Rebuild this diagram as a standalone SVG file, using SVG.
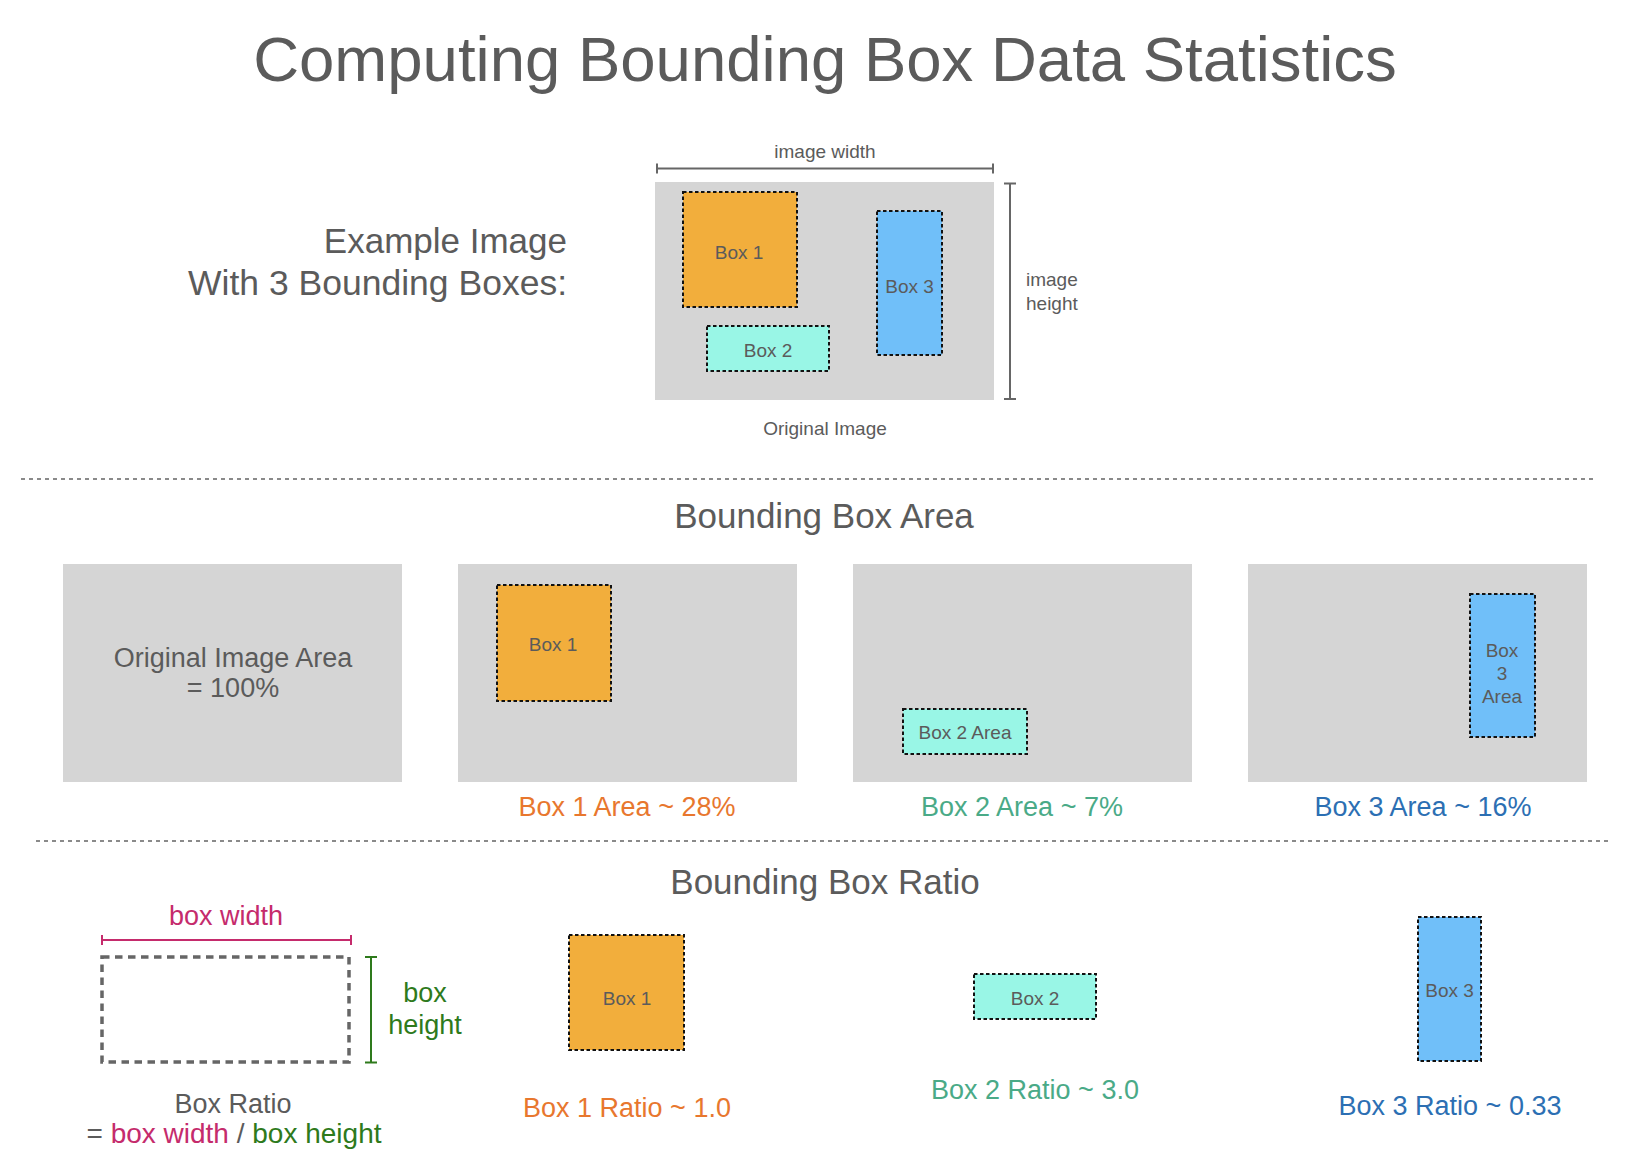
<svg xmlns="http://www.w3.org/2000/svg" width="1632" height="1156" viewBox="0 0 1632 1156">
<style>
text{font-family:"Liberation Sans",Arial,sans-serif;fill:#5b5b5b}
.c{text-anchor:middle}
.title{font-size:63.5px}
.h{font-size:35px}
.s{font-size:19px}
.m{font-size:27px}
.l{font-size:27px}
.img{fill:#d5d5d5}
.bx{stroke:#111;stroke-width:2;stroke-dasharray:3.5 2.5}
.o{fill:#f2ae3c}.cy{fill:#99f6e6}.b{fill:#70bff9}
.div{stroke:#8a8a8a;stroke-width:2;stroke-dasharray:4 4;fill:none}
.dim{stroke:#666;stroke-width:2;fill:none}
</style>
<rect width="1632" height="1156" fill="#fff"/>
<text id="title" class="title c" x="825" y="81">Computing Bounding Box Data Statistics</text>

<g id="example-label">
<text x="567" y="253" font-size="35" text-anchor="end">Example Image</text>
<text x="567" y="295" font-size="35.5" text-anchor="end">With 3 Bounding Boxes:</text>
</g>

<g id="original-image">
<rect class="img" x="655" y="182" width="339" height="218"/>
<text class="s c" x="825" y="435">Original Image</text>
</g>
<g id="orig-box1"><rect class="o bx" x="683" y="192" width="114" height="115"/><text class="s c" x="739" y="259">Box 1</text></g>
<g id="orig-box2"><rect class="cy bx" x="707" y="326" width="122" height="45"/><text class="s c" x="768" y="357">Box 2</text></g>
<g id="orig-box3"><rect class="b bx" x="877" y="211" width="65" height="144"/><text class="s c" x="909.5" y="293">Box 3</text></g>

<g id="connectors">
<g id="image-width-dim">
<path class="dim" d="M657 168.5H993M657 163.5v10M993 163.5v10"/>
<text class="s c" x="825" y="158">image width</text>
</g>
<g id="image-height-dim">
<path class="dim" d="M1010 183.5V399M1004 183.5h12M1004 399h12"/>
<text class="s" x="1026" y="286">image</text>
<text class="s" x="1026" y="310">height</text>
</g>
<line id="divider1" class="div" x1="21" y1="479" x2="1597" y2="479"/>
<line id="divider2" class="div" x1="36" y1="841" x2="1612" y2="841"/>
<g id="box-width-dim">
<path d="M102 940H351M102 935v10M351 935v10" stroke="#c52b6c" stroke-width="2" fill="none"/>
</g>
<g id="box-height-dim">
<path d="M371 957V1062.5M365 957h12M365 1062.5h12" stroke="#2e7a1c" stroke-width="2" fill="none"/>
</g>
</g>

<text id="area-header" class="h c" x="824" y="528">Bounding Box Area</text>

<g id="area-original">
<rect class="img" x="63" y="564" width="339" height="218"/>
<text class="m c" x="233" y="667">Original Image Area</text>
<text class="m c" x="233" y="697">= 100%</text>
</g>
<g id="area-box1">
<rect class="img" x="458" y="564" width="339" height="218"/>
<rect class="o bx" x="497" y="585" width="114" height="116"/>
<text class="s c" x="553" y="651">Box 1</text>
<text class="l c" x="627" y="816" style="fill:#e8772e">Box 1 Area ~ 28%</text>
</g>
<g id="area-box2">
<rect class="img" x="853" y="564" width="339" height="218"/>
<rect class="cy bx" x="903" y="709" width="124" height="45"/>
<text class="s c" x="965" y="739">Box 2 Area</text>
<text class="l c" x="1022" y="816" style="fill:#4aaa87">Box 2 Area ~ 7%</text>
</g>
<g id="area-box3">
<rect class="img" x="1248" y="564" width="339" height="218"/>
<rect class="b bx" x="1470" y="594" width="65" height="143"/>
<text class="s c" x="1502" y="657">Box</text>
<text class="s c" x="1502" y="680">3</text>
<text class="s c" x="1502" y="703">Area</text>
<text class="l c" x="1423" y="816" style="fill:#2c6fb3">Box 3 Area ~ 16%</text>
</g>

<text id="ratio-header" class="h c" x="825" y="894">Bounding Box Ratio</text>

<g id="ratio-legend">
<rect x="102" y="957" width="247" height="105" fill="none" stroke="#666" stroke-width="3.5" stroke-dasharray="7.5 5.5"/>
<text class="l c" x="226" y="925" style="fill:#c52b6c">box width</text>
<text class="l c" x="425" y="1002" style="fill:#2e7a1c">box</text>
<text class="l c" x="425" y="1034" style="fill:#2e7a1c">height</text>
<text class="l c" x="233" y="1113">Box Ratio</text>
<text class="c" font-size="28" x="234" y="1143">= <tspan style="fill:#c52b6c">box width</tspan> / <tspan style="fill:#2e7a1c">box height</tspan></text>
</g>
<g id="ratio-box1">
<rect class="o bx" x="569" y="935" width="115" height="115"/>
<text class="s c" x="627" y="1005">Box 1</text>
<text class="l c" x="627" y="1117" style="fill:#e8772e">Box 1 Ratio ~ 1.0</text>
</g>
<g id="ratio-box2">
<rect class="cy bx" x="974" y="974" width="122" height="45"/>
<text class="s c" x="1035" y="1005">Box 2</text>
<text class="l c" x="1035" y="1099" style="fill:#4aaa87">Box 2 Ratio ~ 3.0</text>
</g>
<g id="ratio-box3">
<rect class="b bx" x="1418" y="917" width="63" height="144"/>
<text class="s c" x="1449.5" y="997">Box 3</text>
<text class="l c" x="1450" y="1115" style="fill:#2c6fb3">Box 3 Ratio ~ 0.33</text>
</g>
</svg>
